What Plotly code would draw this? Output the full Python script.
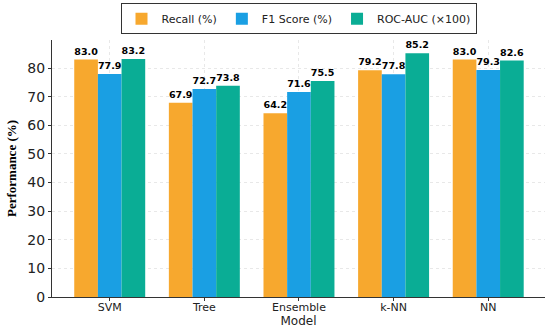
import plotly.graph_objects as go

models = ["SVM", "Tree", "Ensemble", "k-NN", "NN"]
recall = [83.0, 67.9, 64.2, 79.2, 83.0]
f1 = [77.9, 72.7, 71.6, 77.8, 79.3]
roc_auc = [83.2, 73.8, 75.5, 85.2, 82.6]

series = [
    ("Recall (%)", recall, "#F7A82E"),
    ("F1 Score (%)", f1, "#1A9FE3"),
    ("ROC-AUC (×100)", roc_auc, "#0AAD95"),
]

fig = go.Figure()
for name, vals, col in series:
    fig.add_trace(go.Bar(
        x=models, y=vals, name=name, marker=dict(color=col, line=dict(width=0)),
        text=[f"{v:.1f}" for v in vals], textposition="outside",
        textfont=dict(family="DejaVu Sans", size=10, color="black", weight="bold"),
        cliponaxis=False,
    ))

fig.update_layout(
    width=550, height=328,
    margin=dict(l=52, r=5, t=40, b=31, autoexpand=False),
    plot_bgcolor="white", paper_bgcolor="white",
    barmode="group", bargap=0.25, bargroupgap=0,
    font=dict(family="DejaVu Sans", color="#222"),
    legend=dict(orientation="h", x=0.5, xanchor="center", y=0.99, yanchor="top",
                yref="container", font=dict(size=11, family="DejaVu Sans"),
                bordercolor="#333", borderwidth=1, bgcolor="white",
                itemsizing="constant", tracegroupgap=0),
    uniformtext=dict(minsize=9, mode="show"),
)
fig.update_xaxes(
    range=[-0.61, 4.6], showline=True, linecolor="#333", linewidth=1.2,
    ticks="outside", ticklen=3, tickcolor="#333", automargin=False,
    tickfont=dict(size=11, family="DejaVu Sans"), ticklabelstandoff=-3,
    showgrid=True, gridcolor="#e8e8e8", gridwidth=1, griddash="dot",
    title=dict(text="Model", font=dict(size=12, family="DejaVu Sans"), standoff=0),
)
fig.update_yaxes(
    range=[0, 89.8], dtick=10, showline=True, linecolor="#333", linewidth=1.2,
    ticks="outside", ticklen=3, tickcolor="#333", automargin=False,
    tickfont=dict(size=14, family="DejaVu Sans"),
    showgrid=True, gridcolor="#e8e8e8", gridwidth=1, griddash="dot", zeroline=False,
    title=dict(text="<b>Performance (%)</b>", font=dict(size=13, family="Liberation Serif", color="black"), standoff=7),
)

fig.write_html("out.html", config={"displayModeBar": False},
               post_script="document.body.style.margin='0';")
